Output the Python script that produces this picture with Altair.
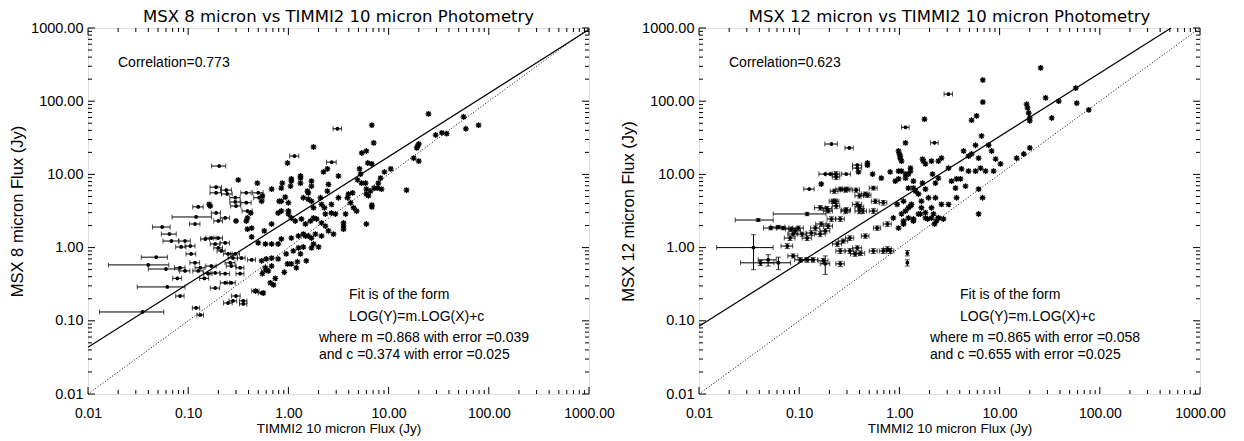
import altair as alt
import pandas as pd
import numpy as np

# ---------------- Panel A : MSX 8 micron vs TIMMI2 10 micron ----------------
# points drawn with error bars (TIMMI2 flux, MSX flux, TIMMI2 error) in Jy
a_err_tim = [0.204, 0.19, 0.19, 0.24, 0.245, 0.295, 0.295, 0.30, 0.38, 0.50,
             0.51, 0.38, 0.39, 0.126, 0.12, 0.117, 0.055, 0.065, 0.068, 0.085,
             0.048, 0.040, 0.060, 0.083, 0.093, 0.062, 0.078, 0.083, 0.035, 0.12,
             0.132, 0.126, 0.186, 0.234, 0.27, 0.25, 0.28, 0.355, 0.355, 0.30,
             0.47, 0.54, 0.59, 0.43, 0.186, 0.17, 0.27, 0.34, 0.295, 0.105,
             0.093, 0.148, 0.17, 0.20, 0.234, 0.186, 0.20, 0.214, 0.25, 0.28,
             0.263, 0.33, 0.234, 0.33, 0.158, 0.145, 0.19, 0.234, 0.20, 0.107,
             0.117, 0.132, 1.15, 3.09, 2.7]
a_err_msx = [13.0, 6.7, 5.6, 6.1, 5.4, 4.8, 4.2, 3.7, 5.6, 5.6,
             4.8, 4.1, 3.16, 3.6, 2.62, 2.1, 1.91, 1.53, 1.23, 1.02,
             0.74, 0.58, 0.51, 0.53, 0.48, 0.29, 0.38, 0.218, 0.132, 0.150,
             0.120, 0.48, 0.28, 0.33, 0.33, 0.175, 0.187, 0.187, 0.170, 0.218,
             0.255, 0.24, 0.48, 0.68, 0.45, 0.56, 0.56, 0.72, 0.82, 1.05,
             1.23, 1.31, 1.35, 1.35, 1.16, 1.12, 0.99, 0.90, 0.82, 0.72,
             0.62, 0.53, 0.44, 0.44, 0.44, 0.38, 2.97, 2.54, 2.31, 0.82,
             0.62, 0.53, 17.8, 42.0, 14.7]
a_err_dtim = [0.033, 0.025, 0.025, 0.03, 0.03, 0.035, 0.035, 0.035, 0.045, 0.06,
              0.06, 0.045, 0.045, 0.015, 0.051, 0.014, 0.011, 0.011, 0.012, 0.01,
              0.014, 0.024, 0.02, 0.01, 0.011, 0.031, 0.008, 0.008, 0.022, 0.01,
              0.01, 0.015, 0.02, 0.025, 0.025, 0.025, 0.025, 0.03, 0.03, 0.03,
              0.04, 0.04, 0.05, 0.04, 0.02, 0.02, 0.03, 0.03, 0.03, 0.012,
              0.012, 0.015, 0.02, 0.02, 0.025, 0.02, 0.02, 0.02, 0.025, 0.03,
              0.03, 0.03, 0.025, 0.03, 0.015, 0.015, 0.02, 0.025, 0.02, 0.012,
              0.013, 0.015, 0.12, 0.3, 0.3]

# points drawn as asterisks (TIMMI2 flux, MSX flux) in Jy
a_ast_tim = [0.316, 0.49, 0.162, 0.166, 0.68, 0.85, 0.87, 0.98, 1.32, 1.07,
             1.78, 1.70, 1.70, 1.58, 0.85, 1.0, 0.79, 1.0, 0.55, 0.54,
             0.42, 0.39, 0.38, 0.30, 0.39, 0.43, 0.93, 0.81, 1.05, 1.07,
             1.70, 1.58, 0.85, 1.0, 1.07, 1.17, 1.35, 1.48, 1.66, 1.78,
             1.91, 0.68, 0.575, 0.43, 0.50, 0.59, 0.68, 0.79, 0.85, 1.07,
             1.26, 1.41, 1.58, 1.78, 1.41, 1.26, 1.12, 1.70, 2.0, 0.54,
             0.60, 0.68, 0.79, 0.59, 0.55, 0.63, 0.68, 0.95, 0.98, 1.07,
             1.23, 1.20, 0.91, 0.74, 0.47, 0.56, 0.66, 0.71, 6.8, 25.0,
             7.1, 5.4, 6.0, 6.2, 6.8, 20.0, 19.5, 19.1, 29.5, 34.0,
             38.0, 56.0, 59.0, 79.0, 17.8, 20.0, 2.24, 2.45, 3.16, 5.13,
             5.25, 4.9, 5.37, 5.89, 9.1, 10.5, 8.3, 7.9, 6.0, 6.6,
             7.2, 7.8, 8.5, 6.0, 6.3, 15.1, 6.8, 6.8, 6.0, 3.55,
             3.55, 3.55, 3.98, 4.37, 3.89, 4.17, 4.47, 4.79, 2.51, 2.45,
             3.16, 2.69, 1.32, 1.32, 1.41, 1.55, 2.09, 1.78, 2.14, 2.29,
             2.69, 2.95, 3.72, 2.34, 2.14, 2.34, 2.51, 2.82, 2.14, 1.86,
             1.70, 1.48, 1.32, 1.51]
a_ast_msx = [8.4, 7.6, 3.9, 3.7, 6.3, 6.5, 7.6, 14.3, 8.9, 8.7,
             23.7, 8.1, 6.9, 5.6, 4.3, 4.1, 2.97, 2.88, 5.1, 4.3,
             2.97, 2.54, 2.31, 2.31, 1.79, 1.85, 4.9, 4.3, 6.9, 8.1,
             4.3, 4.6, 3.16, 3.16, 2.54, 2.31, 2.46, 2.10, 2.31, 2.54,
             2.46, 2.10, 1.69, 1.40, 1.16, 1.12, 1.12, 1.12, 1.31, 1.35,
             1.44, 1.53, 1.44, 1.12, 1.02, 0.99, 0.90, 0.99, 1.02, 0.66,
             0.70, 0.72, 0.70, 0.53, 0.44, 0.48, 0.56, 0.82, 0.60, 0.60,
             0.64, 0.53, 0.46, 0.38, 0.255, 0.24, 0.33, 0.31, 47.0, 67.0,
             27.0, 19.6, 20.9, 14.3, 13.9, 26.0, 24.4, 23.0, 34.5, 37.0,
             36.0, 61.0, 42.0, 47.0, 16.7, 15.2, 10.8, 11.9, 9.5, 11.9,
             10.1, 8.4, 7.6, 7.6, 10.8, 11.9, 8.9, 7.6, 6.3, 5.9,
             6.5, 6.5, 6.3, 5.4, 5.1, 6.1, 3.8, 3.6, 2.10, 2.17,
             1.97, 1.79, 5.4, 5.6, 4.8, 4.1, 3.5, 3.16, 7.3, 5.9,
             4.8, 3.9, 9.5, 7.6, 4.8, 5.9, 4.8, 3.5, 3.9, 3.5,
             2.97, 2.88, 2.88, 2.88, 2.17, 1.97, 1.69, 1.53, 1.44, 1.53,
             1.35, 1.44, 0.82, 0.66]

# ---------------- Panel B : MSX 12 micron vs TIMMI2 10 micron ----------------
b_err_tim = [0.21, 0.316, 1.15, 3.09, 2.24, 0.38, 0.38, 0.182, 0.204, 0.234,
             0.234, 0.295, 0.126, 0.224, 0.29, 0.37, 0.40, 0.457, 0.55, 0.575,
             0.69, 0.229, 0.234, 0.19, 0.295, 0.40, 0.40, 0.12, 0.039, 0.195,
             0.21, 0.257, 0.166, 0.195, 0.182, 0.162, 0.145, 0.132, 0.098, 0.091,
             0.083, 0.069, 0.062, 0.052, 0.035, 0.041, 0.049, 0.062, 0.087, 0.102,
             0.12, 0.138, 0.174, 0.182, 0.076, 0.081, 0.087, 0.107, 0.12, 0.24,
             0.275, 0.32, 0.257, 0.32, 0.38, 0.36, 0.41, 0.55, 0.69, 0.76,
             0.81, 1.20, 1.20, 0.257, 0.457, 0.60, 0.76, 0.257, 0.30, 0.48,
             0.162, 0.219, 0.29, 0.38, 0.43, 0.55]
b_err_msx = [26.0, 23.0, 44.0, 125.0, 27.0, 13.4, 12.2, 10.1, 10.1, 10.1,
             9.2, 10.1, 6.3, 5.9, 6.1, 6.1, 5.1, 5.4, 6.5, 4.3,
             4.1, 4.3, 3.7, 3.4, 3.27, 3.6, 3.16, 2.88, 2.38, 3.16,
             2.46, 2.46, 2.1, 1.97, 1.69, 1.53, 1.85, 1.58, 1.85, 1.69,
             1.79, 1.85, 1.91, 1.85, 1.0, 0.62, 0.68, 0.62, 0.77, 0.68,
             0.68, 0.68, 0.66, 0.60, 1.05, 1.35, 1.53, 1.53, 1.35, 1.12,
             1.23, 1.35, 0.90, 0.90, 0.99, 0.82, 0.84, 0.90, 0.90, 0.96,
             0.90, 0.84, 0.62, 0.60, 1.44, 1.85, 2.1, 6.3, 6.3, 5.2,
             3.5, 4.3, 3.16, 3.9, 3.16, 3.16]
b_err_dtim = [0.03, 0.03, 0.1, 0.3, 0.2, 0.04, 0.04, 0.025, 0.02, 0.02,
              0.02, 0.03, 0.015, 0.02, 0.03, 0.03, 0.04, 0.04, 0.05, 0.05,
              0.06, 0.02, 0.02, 0.02, 0.03, 0.04, 0.04, 0.065, 0.016, 0.02,
              0.02, 0.025, 0.02, 0.02, 0.02, 0.02, 0.015, 0.015, 0.012, 0.012,
              0.01, 0.01, 0.01, 0.008, 0.02, 0.015, 0.01, 0.02, 0.01, 0.012,
              0.013, 0.015, 0.02, 0.02, 0.01, 0.01, 0.01, 0.012, 0.013, 0.025,
              0.03, 0.03, 0.025, 0.03, 0.04, 0.035, 0.04, 0.05, 0.06, 0.07,
              0.07, 0.0, 0.0, 0.025, 0.04, 0.05, 0.07, 0.025, 0.03, 0.04,
              0.02, 0.02, 0.03, 0.04, 0.04, 0.05]
b_err_dmsx = [0.0, 0.0, 0.0, 0.0, 0.0, 0.0, 0.0, 0.0, 0.0, 0.8,
              0.7, 0.0, 0.0, 0.4, 0.4, 0.4, 0.35, 0.35, 0.4, 0.3,
              0.3, 0.3, 0.3, 0.25, 0.25, 0.25, 0.25, 0.15, 0.1, 0.2,
              0.18, 0.18, 0.15, 0.15, 0.12, 0.12, 0.13, 0.12, 0.12, 0.12,
              0.12, 0.1, 0.1, 0.1, 0.5, 0.05, 0.12, 0.12, 0.05, 0.05,
              0.05, 0.05, 0.05, 0.17, 0.08, 0.1, 0.1, 0.1, 0.1, 0.08,
              0.08, 0.1, 0.07, 0.07, 0.07, 0.06, 0.06, 0.07, 0.07, 0.07,
              0.07, 0.07, 0.06, 0.05, 0.1, 0.13, 0.15, 0.4, 0.4, 0.35,
              0.25, 0.3, 0.25, 0.3, 0.25, 0.25]

b_ast_tim = [1.15, 0.98, 1.0, 1.02, 1.02, 1.05, 1.78, 1.70, 1.82, 0.48,
             0.48, 0.39, 0.54, 0.66, 0.81, 0.91, 0.98, 1.05, 1.15, 1.29,
             1.23, 0.166, 25.7, 6.8, 6.8, 5.25, 5.89, 6.6, 18.6, 19.0,
             19.5, 20.0, 20.0, 28.8, 33.1, 38.9, 57.5, 58.9, 77.6, 14.8,
             17.4, 20.0, 5.75, 4.37, 4.90, 5.25, 6.17, 4.17, 4.90, 5.75,
             6.46, 7.24, 8.71, 10.2, 7.76, 8.32, 9.12, 3.31, 3.72, 4.07,
             3.63, 4.57, 3.72, 6.17, 6.76, 6.17, 3.09, 2.63, 2.29, 2.09,
             1.66, 1.82, 1.55, 1.82, 2.09, 2.34, 2.45, 2.75, 2.24, 1.74,
             2.09, 2.45, 2.63, 3.09, 1.15, 0.98, 1.38, 1.45, 1.55, 1.82,
             1.95, 1.66, 1.32, 1.23, 1.15, 1.05, 1.23, 1.38, 1.10, 0.98,
             1.29, 1.38, 1.23, 1.70, 2.14, 2.29, 2.45, 0.95, 1.10, 1.29,
             0.87, 1.10, 1.38, 1.62, 1.91, 2.19, 2.45]
b_ast_msx = [27.0, 20.9, 19.0, 17.8, 16.7, 15.2, 57.0, 16.2, 13.9, 14.3,
             13.4, 10.8, 10.1, 8.9, 10.8, 8.1, 8.7, 11.1, 10.1, 12.2,
             10.1, 7.4, 285.0, 195.0, 97.0, 55.0, 63.0, 33.5, 91.0, 81.0,
             69.0, 59.0, 54.0, 111.0, 59.0, 100.0, 151.0, 94.0, 76.0, 16.7,
             19.0, 23.0, 25.0, 20.9, 17.8, 19.0, 16.7, 11.9, 11.1, 11.1,
             12.2, 11.1, 11.1, 13.9, 25.0, 20.9, 16.2, 8.1, 8.7, 8.7,
             6.5, 6.9, 4.8, 6.3, 4.8, 2.88, 3.9, 3.9, 4.8, 3.5,
             3.5, 3.0, 2.88, 2.54, 2.54, 2.31, 2.54, 2.46, 2.10, 15.2,
             15.2, 15.2, 16.7, 12.2, 8.9, 11.1, 6.5, 5.9, 5.4, 6.3,
             4.8, 4.3, 3.9, 3.5, 3.16, 2.88, 2.54, 2.31, 2.10, 1.85,
             11.1, 8.1, 6.5, 7.6, 10.1, 7.6, 8.9, 3.9, 4.3, 3.7,
             2.54, 2.31, 2.46, 2.88, 2.46, 2.88, 2.54]

# fit parameters  LOG(Y) = m.LOG(X) + c
a_fit = (0.868, 0.374)
b_fit = (0.865, 0.655)

MAJOR = [0.01, 0.1, 1.0, 10.0, 100.0, 1000.0]
MINOR = [k * 10.0 ** e for e in range(-2, 3) for k in range(2, 10)]

W, H = 501, 366
FONT = "Liberation Sans"
ASTER = "M0,-1L0,1M-1,0L1,0M-0.72,-0.72L0.72,0.72M-0.72,0.72L0.72,-0.72"


def make_df(tim, msx, dtim=None, dmsx=None):
    n = min(len(tim), len(msx))
    d = pd.DataFrame({"x": tim[:n], "y": msx[:n]})
    d["dx"] = (dtim[:n] if dtim is not None else [0.0] * n)
    d["dy"] = (dmsx[:n] if dmsx is not None else [0.0] * n)
    return d


def panel(err_df, ast_df, fit, title, ytitle, corr, mtxt, ctxt):
    xs = alt.Scale(type="log", domain=[0.01, 1000], nice=False)
    ys = alt.Scale(type="log", domain=[0.01, 1000], nice=False)
    xaxis = alt.Axis(values=MAJOR, format=".2f", ticks=False, domain=False, grid=False,
                     labelFont=FONT, labelFontSize=14, labelColor="black", labelPadding=12,
                     labelFlush=False, labelOverlap=False,
                     title="TIMMI2 10 micron Flux (Jy)", titleFont=FONT, titleFontSize=13.5,
                     titleFontWeight="normal", titleColor="black", titlePadding=1)
    yaxis = alt.Axis(values=MAJOR, format=".2f", ticks=False, domain=False, grid=False,
                     labelFont=FONT, labelFontSize=14.5, labelColor="black", labelPadding=5,
                     labelFlush=False, labelOverlap=False,
                     title=ytitle, titleFont=FONT, titleFontSize=16.5,
                     titleFontWeight="normal", titleColor="black", titlePadding=3,
                     minExtent=60, maxExtent=60)
    X = lambda f: alt.X(f, scale=xs, axis=xaxis)
    Y = lambda f: alt.Y(f, scale=ys, axis=yaxis)

    layers = []
    # inward ticks on all four sides
    for vals, ln in ((MAJOR, 7), (MINOR, 4)):
        tdf = pd.DataFrame({"v": vals})
        base = alt.Chart(tdf).mark_rule(color="black", strokeWidth=1)
        layers.append(base.encode(x=X("v:Q"), y=alt.value(H), y2=alt.value(H - ln)))
        layers.append(base.encode(x=X("v:Q"), y=alt.value(0), y2=alt.value(ln)))
        layers.append(base.encode(y=Y("v:Q"), x=alt.value(0), x2=alt.value(ln)))
        layers.append(base.encode(y=Y("v:Q"), x=alt.value(W), x2=alt.value(W - ln)))

    # 1:1 line (dotted) and fit line (solid)
    m, c = fit
    one = pd.DataFrame({"x": [0.01, 1000.0], "y": [0.01, 1000.0]})
    xend = min(1000.0, 10 ** ((3 - c) / m))
    fx = np.array([0.01, xend])
    fitdf = pd.DataFrame({"x": fx, "y": 10 ** (m * np.log10(fx) + c)})
    layers.append(alt.Chart(one).mark_line(color="black", strokeWidth=1, strokeDash=[1, 2])
                  .encode(x=X("x:Q"), y=Y("y:Q")))
    layers.append(alt.Chart(fitdf).mark_line(color="black", strokeWidth=1.2)
                  .encode(x=X("x:Q"), y=Y("y:Q")))

    # horizontal error bars
    ex = alt.Chart(err_df).transform_filter("datum.dx > 0").transform_calculate(
        xlo="datum.x - datum.dx", xhi="datum.x + datum.dx")
    layers.append(ex.mark_rule(color="black", strokeWidth=1).encode(
        x=X("xlo:Q"), x2="xhi:Q", y=Y("y:Q")))
    layers.append(ex.transform_fold(["xlo", "xhi"], as_=["k", "v"]).mark_tick(
        color="black", orient="vertical", size=5, thickness=1).encode(x=X("v:Q"), y=Y("y:Q")))
    # vertical error bars
    ey = alt.Chart(err_df).transform_filter("datum.dy > 0").transform_calculate(
        ylo="datum.y - datum.dy", yhi="datum.y + datum.dy")
    layers.append(ey.mark_rule(color="black", strokeWidth=1).encode(
        x=X("x:Q"), y=Y("ylo:Q"), y2="yhi:Q"))
    layers.append(ey.transform_fold(["ylo", "yhi"], as_=["k", "v"]).mark_tick(
        color="black", orient="horizontal", size=5, thickness=1).encode(x=X("x:Q"), y=Y("v:Q")))

    # symbols
    layers.append(alt.Chart(err_df).mark_point(shape=ASTER, size=14, filled=False, color="black",
                                               strokeWidth=1.2, opacity=1)
                  .encode(x=X("x:Q"), y=Y("y:Q")))
    layers.append(alt.Chart(ast_df).mark_point(shape=ASTER, size=34, filled=False, color="black",
                                               strokeWidth=1.3, opacity=1)
                  .encode(x=X("x:Q"), y=Y("y:Q")))

    def txt(s, px, py, font=FONT, size=14, align="left", baseline="middle"):
        return alt.Chart(pd.DataFrame({"t": [s]})).mark_text(
            align=align, baseline=baseline, font=font, fontSize=size, color="black"
        ).encode(text="t:N", x=alt.value(px), y=alt.value(py))

    layers += [txt(corr, 30, 35),
               txt("Fit is of the form", 261, 267),
               txt("LOG(Y)=m.LOG(X)+c", 261, 289),
               txt(mtxt, 231, 310),
               txt(ctxt, 231, 327),
               txt(title, W / 2, -6, font="DejaVu Sans", size=16.5, align="center",
                   baseline="alphabetic")]

    return alt.layer(*layers).properties(width=W, height=H)


a_err = make_df(a_err_tim, a_err_msx, a_err_dtim)
a_ast = make_df(a_ast_tim, a_ast_msx)
b_err = make_df(b_err_tim, b_err_msx, b_err_dtim, b_err_dmsx)
b_ast = make_df(b_ast_tim, b_ast_msx)

left = panel(a_err, a_ast, a_fit, "MSX 8 micron vs TIMMI2 10 micron Photometry",
             "MSX 8 micron Flux (Jy)", "Correlation=0.773",
             "where m =0.868 with error =0.039", "and c =0.374 with error =0.025")
right = panel(b_err, b_ast, b_fit, "MSX 12 micron vs TIMMI2 10 micron Photometry",
              "MSX 12 micron Flux (Jy)", "Correlation=0.623",
              "where m =0.865 with error =0.058", "and c =0.655 with error =0.025")

chart = alt.hconcat(left, right, spacing=110, bounds="flush").properties(
    padding={"left": 0, "top": 0, "right": 5, "bottom": 2}
).configure_view(stroke="black", strokeWidth=1).configure(background="white")

chart.save("out.html", embed_options={"renderer": "svg", "actions": False})
